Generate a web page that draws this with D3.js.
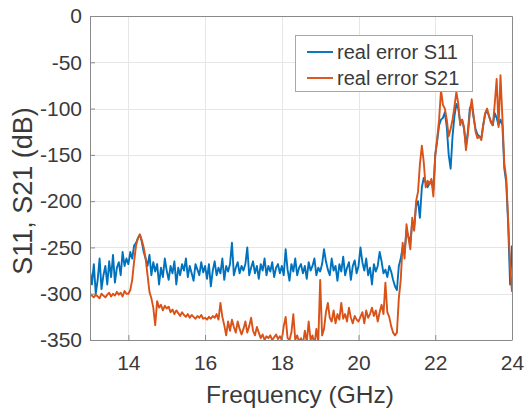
<!DOCTYPE html>
<html>
<head>
<meta charset="utf-8">
<script src="https://cdn.jsdelivr.net/npm/d3@7"></script>
<style>
  body { margin: 0; background: #fff; }
  svg { display: block; }
  text { font-family: "Liberation Sans", Arial, Helvetica, sans-serif; }
</style>
</head>
<body>
<svg id="chart" width="526" height="412"></svg>
<script>
// Frequency sweep: 13 GHz to 24 GHz in 0.05 GHz steps
const freqStart = 13;
const freqStep = 0.05;

// Reconstruction error of S11 (dB), one value per frequency step
const s11 = [
  -275,-290,-268,-300,-285,-262,-295,-280,-270,-290,-265,-282,-258,-288,-272,-266,-280,-255,-270,-262,
  -268,-255,-262,-248,-245,-240,-236,-244,-255,-262,-270,-258,-280,-266,-276,-268,-290,-272,-282,-262,
  -275,-285,-270,-278,-265,-290,-272,-280,-268,-275,-262,-282,-270,-278,-286,-268,-274,-280,-266,-277,
  -270,-284,-268,-292,-275,-265,-280,-272,-278,-262,-285,-270,-276,-268,-245,-280,-272,-266,-278,-270,
  -275,-268,-250,-280,-272,-265,-278,-270,-284,-268,-275,-262,-280,-270,-276,-266,-282,-272,-268,-278,
  -270,-280,-252,-274,-286,-268,-276,-262,-280,-272,-268,-278,-270,-284,-266,-275,-270,-262,-280,-272,
  -276,-268,-252,-265,-274,-280,-262,-275,-270,-286,-268,-276,-260,-280,-272,-266,-285,-270,-264,-278,
  -270,-250,-266,-275,-262,-280,-272,-290,-268,-276,-270,-255,-265,-278,-274,-282,-270,-276,-285,-292,
  -296,-270,-262,-250,-255,-232,-238,-245,-222,-228,-205,-200,-218,-185,-175,-180,-185,-180,-178,-188,
  -150,-135,-118,-112,-110,-104,-120,-150,-165,-130,-108,-95,-100,-115,-112,-122,-140,-125,-100,-95,
  -110,-122,-128,-130,-132,-118,-106,-102,-108,-114,-118,-105,-110,-118,-112,-118,-165,-180,-225,-290,
  -248
];

// Reconstruction error of S21 (dB), one value per frequency step
const s21 = [
  -300,-302,-304,-301,-303,-305,-300,-302,-304,-301,-299,-303,-300,-302,-298,-301,-299,-303,-297,-300,
  -300,-296,-285,-265,-248,-240,-236,-242,-250,-262,-280,-298,-305,-315,-334,-308,-315,-312,-318,-313,
  -316,-314,-320,-317,-322,-318,-321,-324,-320,-323,-325,-322,-326,-323,-325,-327,-324,-326,-323,-327,
  -326,-328,-325,-327,-324,-326,-322,-328,-310,-325,-334,-345,-330,-340,-328,-336,-342,-330,-338,-344,
  -338,-330,-342,-335,-326,-340,-345,-336,-342,-348,-344,-350,-346,-348,-345,-350,-347,-344,-349,-346,
  -350,-335,-325,-348,-350,-342,-322,-350,-345,-352,-348,-355,-340,-352,-330,-350,-345,-356,-338,-352,
  -285,-345,-338,-320,-310,-326,-330,-318,-332,-322,-328,-310,-327,-322,-330,-315,-326,-332,-324,-328,
  -330,-325,-320,-332,-318,-326,-322,-315,-324,-318,-330,-320,-312,-322,-288,-320,-325,-335,-342,-345,
  -342,-305,-285,-245,-262,-225,-240,-252,-218,-232,-200,-190,-160,-140,-158,-185,-178,-182,-176,-195,
  -150,-132,-112,-80,-96,-100,-112,-130,-122,-112,-98,-82,-95,-118,-112,-120,-145,-128,-105,-90,
  -108,-125,-132,-130,-134,-118,-105,-100,-108,-115,-118,-95,-68,-120,-64,-110,-160,-175,-220,-270,
  -298
];

const xTicks = [14, 16, 18, 20, 22, 24];
const yTicks = [0, -50, -100, -150, -200, -250, -300, -350];
const seriesNames = ["real error S11", "real error S21"];
const seriesColors = ["#0072BD", "#D95319"];
const xTitle = "Frequency (GHz)";
const yTitle = "S11, S21 (dB)";

const svg = d3.select("#chart");
const plot = { left: 90, right: 512, top: 16, bottom: 340 };

const x = d3.scaleLinear().domain([13, 24]).range([plot.left, plot.right]);
const y = d3.scaleLinear().domain([-350, 0]).range([plot.bottom, plot.top]);

const freq = s11.map((_, i) => +(freqStart + i * freqStep).toFixed(2));
const series = [s11, s21].map(vals => vals.map((v, i) => ({ f: freq[i], v })));

// Grid
const grid = svg.append("g").attr("stroke", "#e6e6e6").attr("stroke-width", 1);
grid.selectAll(".gx").data(xTicks).join("line")
  .attr("x1", d => Math.round(x(d)) + 0.5).attr("x2", d => Math.round(x(d)) + 0.5)
  .attr("y1", plot.top).attr("y2", plot.bottom);
grid.selectAll(".gy").data(yTicks).join("line")
  .attr("y1", d => Math.round(y(d)) + 0.5).attr("y2", d => Math.round(y(d)) + 0.5)
  .attr("x1", plot.left).attr("x2", plot.right);

// Data lines, clipped to the axes box
svg.append("clipPath").attr("id", "plotclip").append("rect")
  .attr("x", plot.left).attr("y", plot.top)
  .attr("width", plot.right - plot.left).attr("height", plot.bottom - plot.top);

const line = d3.line().x(d => x(d.f)).y(d => y(d.v));
svg.append("g").attr("clip-path", "url(#plotclip)")
  .selectAll("path").data(series).join("path")
  .attr("d", line)
  .attr("fill", "none")
  .attr("stroke", (d, i) => seriesColors[i])
  .attr("stroke-width", 1.9)
  .attr("stroke-linejoin", "round");

// Axes
const axisColor = "#8a8a8a";
const labelColor = "#3a3a3a";

const xAxis = svg.append("g")
  .attr("transform", `translate(0,${plot.bottom})`)
  .call(d3.axisBottom(x).tickValues(xTicks).tickSizeInner(-5).tickSizeOuter(0).tickPadding(15).tickFormat(d3.format("d")));
const yAxis = svg.append("g")
  .attr("transform", `translate(${plot.left},0)`)
  .call(d3.axisLeft(y).tickValues(yTicks).tickSizeInner(-5).tickSizeOuter(0).tickPadding(8).tickFormat(d => d3.format("d")(d).replace("−", "-")));

[xAxis, yAxis].forEach(g => {
  g.select(".domain").attr("stroke", axisColor);
  g.selectAll(".tick line").attr("stroke", axisColor);
  g.selectAll(".tick text").attr("fill", labelColor).attr("font-size", 21)
    .style("font-family", '"Liberation Sans", Arial, sans-serif');
});

// Box top and right edges
svg.append("path")
  .attr("d", `M${plot.left},${plot.top + 0.5}H${plot.right + 0.5}V${plot.bottom}`)
  .attr("fill", "none").attr("stroke", axisColor);

// Axis titles
svg.append("text")
  .attr("x", (plot.left + plot.right) / 2 - 1).attr("y", 403)
  .attr("text-anchor", "middle").attr("font-size", 24.5).attr("fill", labelColor)
  .text(xTitle);
svg.append("text")
  .attr("transform", "translate(32,191) rotate(-90)")
  .attr("text-anchor", "middle").attr("font-size", 27).attr("fill", labelColor)
  .text(yTitle);

// Legend
const legend = svg.append("g");
legend.append("rect")
  .attr("x", 295.5).attr("y", 35.5).attr("width", 177).attr("height", 56)
  .attr("fill", "#fff").attr("stroke", "#a8a8a8");
const rows = legend.selectAll(".row").data(seriesNames).join("g")
  .attr("transform", (d, i) => `translate(0,${52 + i * 26})`);
rows.append("line")
  .attr("x1", 307).attr("x2", 333).attr("y1", 0).attr("y2", 0)
  .attr("stroke", (d, i) => seriesColors[i]).attr("stroke-width", 1.9);
rows.append("text")
  .attr("x", 337).attr("y", 0).attr("dy", "0.35em")
  .attr("font-size", 20).attr("fill", labelColor)
  .text(d => d);
</script>
</body>
</html>
